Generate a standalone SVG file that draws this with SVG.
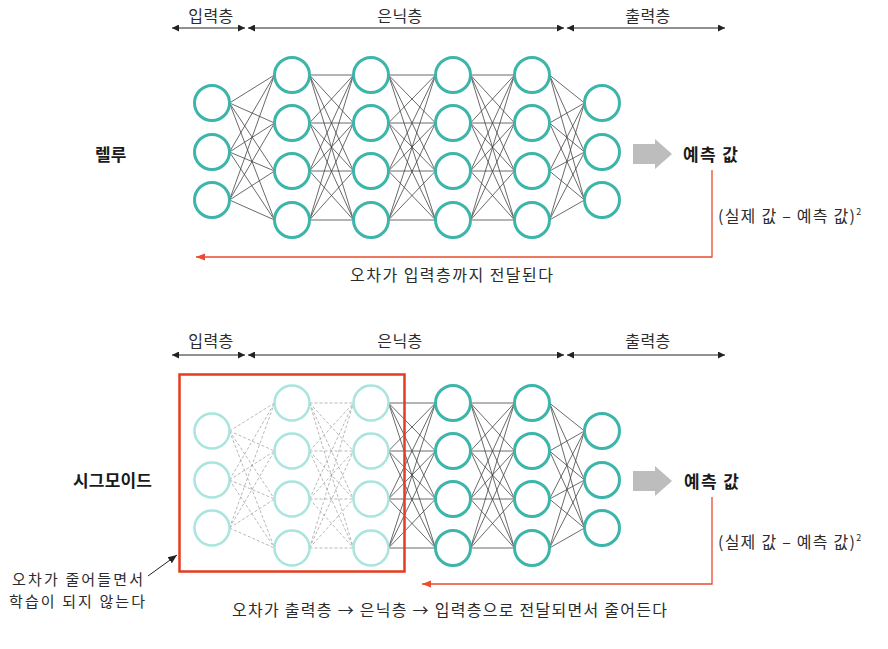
<svg xmlns="http://www.w3.org/2000/svg" xmlns:xlink="http://www.w3.org/1999/xlink" width="888" height="649" viewBox="0 0 888 649">
<style>
text{font-family:"Noto Sans CJK KR","Noto Sans",sans-serif;fill:#2b2b2b;}
.lbl{font-size:16px;}
.note{font-size:15px;}
.hd{font-size:16px;letter-spacing:0.5px;}
.bold{font-size:17px;font-weight:bold;fill:#1a1a1a;}
.hdr{stroke:#222;stroke-width:1;fill:none;marker-start:url(#hs);marker-end:url(#he);}
.n{fill:#fff;stroke:#3db5aa;stroke-width:3;}
.nf{fill:#fff;stroke:#a9e5df;stroke-width:2.5;}
.err{fill:none;stroke:#ea4b2e;stroke-width:1.3;marker-end:url(#ra);}
.box{fill:none;stroke:#e53b1f;stroke-width:2.5;}
.ga{fill:#bdbdbd;}
</style>
<defs>
<marker id="he" viewBox="0 0 8 8" refX="8" refY="4" markerWidth="7" markerHeight="7" markerUnits="userSpaceOnUse" orient="auto"><path d="M0 0L8 4L0 8Z" fill="#222"/></marker>
<marker id="hs" viewBox="0 0 8 8" refX="0" refY="4" markerWidth="7" markerHeight="7" markerUnits="userSpaceOnUse" orient="auto"><path d="M8 0L0 4L8 8Z" fill="#222"/></marker>
<marker id="ra" viewBox="0 0 10 10" refX="10" refY="5" markerWidth="9" markerHeight="9" markerUnits="userSpaceOnUse" orient="auto"><path d="M0 1L10 5L0 9Z" fill="#ea4b2e"/></marker>
<marker id="ka" viewBox="0 0 10 10" refX="10" refY="5" markerWidth="9" markerHeight="9" markerUnits="userSpaceOnUse" orient="auto"><path d="M0 1L10 5L0 9Z" fill="#222"/></marker>
<path id="c01" d="M229.5 103L274.5 75M229.5 103L274.5 123M229.5 103L274.5 171M229.5 103L274.5 220M229.5 152L274.5 75M229.5 152L274.5 123M229.5 152L274.5 171M229.5 152L274.5 220M229.5 200L274.5 75M229.5 200L274.5 123M229.5 200L274.5 171M229.5 200L274.5 220"/>
<path id="c12" d="M309.5 75L353.5 75M309.5 75L353.5 123M309.5 75L353.5 171M309.5 75L353.5 220M309.5 123L353.5 75M309.5 123L353.5 123M309.5 123L353.5 171M309.5 123L353.5 220M309.5 171L353.5 75M309.5 171L353.5 123M309.5 171L353.5 171M309.5 171L353.5 220M309.5 220L353.5 75M309.5 220L353.5 123M309.5 220L353.5 171M309.5 220L353.5 220"/>
<path id="c23" d="M388.5 75L435.5 75M388.5 75L435.5 123M388.5 75L435.5 171M388.5 75L435.5 220M388.5 123L435.5 75M388.5 123L435.5 123M388.5 123L435.5 171M388.5 123L435.5 220M388.5 171L435.5 75M388.5 171L435.5 123M388.5 171L435.5 171M388.5 171L435.5 220M388.5 220L435.5 75M388.5 220L435.5 123M388.5 220L435.5 171M388.5 220L435.5 220"/>
<path id="c34" d="M470.5 75L514.5 75M470.5 75L514.5 123M470.5 75L514.5 171M470.5 75L514.5 220M470.5 123L514.5 75M470.5 123L514.5 123M470.5 123L514.5 171M470.5 123L514.5 220M470.5 171L514.5 75M470.5 171L514.5 123M470.5 171L514.5 171M470.5 171L514.5 220M470.5 220L514.5 75M470.5 220L514.5 123M470.5 220L514.5 171M470.5 220L514.5 220"/>
<path id="c45" d="M549.5 75L584.5 103M549.5 75L584.5 152M549.5 75L584.5 200M549.5 123L584.5 103M549.5 123L584.5 152M549.5 123L584.5 200M549.5 171L584.5 103M549.5 171L584.5 152M549.5 171L584.5 200M549.5 220L584.5 103M549.5 220L584.5 152M549.5 220L584.5 200"/>
<path id="garrow" d="M633 144H655V139L672 154L655 169V164H633Z"/>
</defs>
<rect width="888" height="649" fill="#fff"/>

<g id="headers">
<text class="hd" x="211" y="22" text-anchor="middle">입력층</text>
<text class="hd" x="400" y="22" text-anchor="middle">은닉층</text>
<text class="hd" x="648" y="22" text-anchor="middle">출력층</text>
<path class="hdr" d="M172 28H245"/>
<path class="hdr" d="M248 28H564"/>
<path class="hdr" d="M567 28H725"/>
<text class="hd" x="211" y="347" text-anchor="middle">입력층</text>
<text class="hd" x="400" y="347" text-anchor="middle">은닉층</text>
<text class="hd" x="648" y="347" text-anchor="middle">출력층</text>
<path class="hdr" d="M172 355H245"/>
<path class="hdr" d="M248 355H564"/>
<path class="hdr" d="M567 355H725"/>
</g>

<g id="connectors">
<g id="top-connections" fill="none" stroke="#444" stroke-width="0.8">
<use xlink:href="#c01"/><use xlink:href="#c12"/><use xlink:href="#c23"/><use xlink:href="#c34"/><use xlink:href="#c45"/>
</g>
<g id="bottom-connections" fill="none" transform="translate(0,328)">
<g stroke="#9a9a9a" stroke-width="0.7" stroke-dasharray="3 2"><use xlink:href="#c01"/><use xlink:href="#c12"/></g>
<g stroke="#444" stroke-width="0.8"><use xlink:href="#c23"/><use xlink:href="#c34"/><use xlink:href="#c45"/></g>
</g>
<path id="err-top" class="err" d="M712 170V257H196"/>
<path id="err-bottom" class="err" d="M712 497V584H422"/>
<path id="note-arrow" d="M148 576L177 555" stroke="#222" stroke-width="1" fill="none" marker-end="url(#ka)"/>
</g>

<g id="top-network">
<g id="t0a"><circle class="n" cx="212" cy="103" r="17.5"/></g>
<g id="t0b"><circle class="n" cx="212" cy="152" r="17.5"/></g>
<g id="t0c"><circle class="n" cx="212" cy="200" r="17.5"/></g>
<g id="t1a"><circle class="n" cx="292" cy="75" r="17.5"/></g>
<g id="t1b"><circle class="n" cx="292" cy="123" r="17.5"/></g>
<g id="t1c"><circle class="n" cx="292" cy="171" r="17.5"/></g>
<g id="t1d"><circle class="n" cx="292" cy="220" r="17.5"/></g>
<g id="t2a"><circle class="n" cx="371" cy="75" r="17.5"/></g>
<g id="t2b"><circle class="n" cx="371" cy="123" r="17.5"/></g>
<g id="t2c"><circle class="n" cx="371" cy="171" r="17.5"/></g>
<g id="t2d"><circle class="n" cx="371" cy="220" r="17.5"/></g>
<g id="t3a"><circle class="n" cx="453" cy="75" r="17.5"/></g>
<g id="t3b"><circle class="n" cx="453" cy="123" r="17.5"/></g>
<g id="t3c"><circle class="n" cx="453" cy="171" r="17.5"/></g>
<g id="t3d"><circle class="n" cx="453" cy="220" r="17.5"/></g>
<g id="t4a"><circle class="n" cx="532" cy="75" r="17.5"/></g>
<g id="t4b"><circle class="n" cx="532" cy="123" r="17.5"/></g>
<g id="t4c"><circle class="n" cx="532" cy="171" r="17.5"/></g>
<g id="t4d"><circle class="n" cx="532" cy="220" r="17.5"/></g>
<g id="t5a"><circle class="n" cx="602" cy="103" r="17.5"/></g>
<g id="t5b"><circle class="n" cx="602" cy="152" r="17.5"/></g>
<g id="t5c"><circle class="n" cx="602" cy="200" r="17.5"/></g>
</g>

<g id="bottom-network">
<g id="b0a"><circle class="nf" cx="212" cy="431" r="17.5"/></g>
<g id="b0b"><circle class="nf" cx="212" cy="480" r="17.5"/></g>
<g id="b0c"><circle class="nf" cx="212" cy="528" r="17.5"/></g>
<g id="b1a"><circle class="nf" cx="292" cy="403" r="17.5"/></g>
<g id="b1b"><circle class="nf" cx="292" cy="451" r="17.5"/></g>
<g id="b1c"><circle class="nf" cx="292" cy="499" r="17.5"/></g>
<g id="b1d"><circle class="nf" cx="292" cy="548" r="17.5"/></g>
<g id="b2a"><circle class="nf" cx="371" cy="403" r="17.5"/></g>
<g id="b2b"><circle class="nf" cx="371" cy="451" r="17.5"/></g>
<g id="b2c"><circle class="nf" cx="371" cy="499" r="17.5"/></g>
<g id="b2d"><circle class="nf" cx="371" cy="548" r="17.5"/></g>
<g id="b3a"><circle class="n" cx="453" cy="403" r="17.5"/></g>
<g id="b3b"><circle class="n" cx="453" cy="451" r="17.5"/></g>
<g id="b3c"><circle class="n" cx="453" cy="499" r="17.5"/></g>
<g id="b3d"><circle class="n" cx="453" cy="548" r="17.5"/></g>
<g id="b4a"><circle class="n" cx="532" cy="403" r="17.5"/></g>
<g id="b4b"><circle class="n" cx="532" cy="451" r="17.5"/></g>
<g id="b4c"><circle class="n" cx="532" cy="499" r="17.5"/></g>
<g id="b4d"><circle class="n" cx="532" cy="548" r="17.5"/></g>
<g id="b5a"><circle class="n" cx="602" cy="431" r="17.5"/></g>
<g id="b5b"><circle class="n" cx="602" cy="480" r="17.5"/></g>
<g id="b5c"><circle class="n" cx="602" cy="528" r="17.5"/></g>
</g>

<g id="vanish-box"><rect class="box" x="179.5" y="374.5" width="225" height="197"/></g>

<g id="top-labels">
<text class="bold" x="95" y="161">렐루</text>
<use xlink:href="#garrow" class="ga"/>
<text class="bold" x="683" y="161" textLength="55" lengthAdjust="spacing">예측 값</text>
<text class="lbl" font-size="15" x="718" y="222"><tspan textLength="137" lengthAdjust="spacing">(실제 값 – 예측 값)</tspan><tspan font-size="9" dy="-7">2</tspan></text>
<text class="lbl" x="350" y="281" textLength="203" lengthAdjust="spacing">오차가 입력층까지 전달된다</text>
</g>

<g id="bottom-labels">
<text class="bold" x="73" y="487" textLength="79" lengthAdjust="spacing">시그모이드</text>
<use xlink:href="#garrow" class="ga" transform="translate(0,327)"/>
<text class="bold" x="684" y="488" textLength="55" lengthAdjust="spacing">예측 값</text>
<text class="lbl" font-size="15" x="718" y="548"><tspan textLength="137" lengthAdjust="spacing">(실제 값 – 예측 값)</tspan><tspan font-size="9" dy="-7">2</tspan></text>
<text class="note" x="12" y="585" textLength="131" lengthAdjust="spacing">오차가 줄어들면서</text>
<text class="note" x="9" y="607" textLength="136" lengthAdjust="spacing">학습이 되지 않는다</text>
<text class="lbl" x="232" y="616" textLength="435" lengthAdjust="spacing">오차가 출력층 → 은닉층 → 입력층으로 전달되면서 줄어든다</text>
</g>
</svg>
